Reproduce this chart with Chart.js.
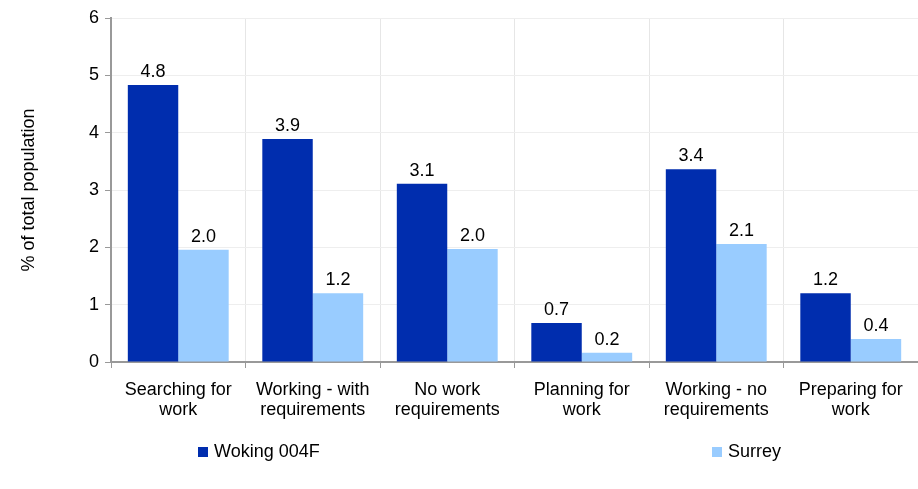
<!DOCTYPE html>
<html><head><meta charset="utf-8">
<script src="https://cdn.jsdelivr.net/npm/chart.js@4.4.0/dist/chart.umd.min.js"></script>
<style>html,body{margin:0;padding:0;background:#fff;}#wrap{width:918px;height:489px;}</style>
</head><body><div id="wrap"><canvas id="c" width="918" height="489"></canvas></div>
<script>
const categories = [["Searching for","work"],["Working - with","requirements"],["No work","requirements"],["Planning for","work"],["Working - no","requirements"],["Preparing for","work"]];
const seriesNames = ["Woking 004F","Surrey"];
const wokingValues = [4.83, 3.89, 3.11, 0.68, 3.36, 1.20];
const surreyValues = [1.96, 1.20, 1.97, 0.16, 2.06, 0.40];
const yTicks = [0,1,2,3,4,5,6];
const FONT = "'Liberation Sans', Arial, sans-serif";
const FS = 18;

const valueLabels = {
  id:'valueLabels',
  afterDatasetsDraw(chart){
    const ctx = chart.ctx;
    ctx.save();
    ctx.font = FS + "px " + FONT;
    ctx.fillStyle = '#000';
    ctx.textAlign = 'center';
    ctx.textBaseline = 'bottom';
    chart.data.datasets.forEach((ds,i)=>{
      chart.getDatasetMeta(i).data.forEach((bar,j)=>{
        ctx.fillText(ds.data[j].toFixed(1), bar.x, bar.y - 4);
      });
    });
    ctx.restore();
  }
};
const customLegend = {
  id:'customLegend',
  afterDraw(chart){
    const ctx = chart.ctx;
    ctx.save();
    ctx.font = FS + "px " + FONT;
    ctx.textBaseline = 'middle';
    const pos = [198, 712];
    const y = 452;
    chart.data.datasets.forEach((ds,i)=>{
      ctx.fillStyle = ds.backgroundColor;
      ctx.fillRect(pos[i], y-5, 10, 10);
      ctx.fillStyle = '#000';
      ctx.fillText(ds.label, pos[i]+16, y);
    });
    ctx.restore();
  }
};

new Chart(document.getElementById('c'), {
  type:'bar',
  data:{
    labels: categories,
    datasets:[
      {label: seriesNames[0], data: wokingValues, backgroundColor:'#002DAE', categoryPercentage:0.75, barPercentage:1.0},
      {label: seriesNames[1], data: surreyValues, backgroundColor:'#99CCFF', categoryPercentage:0.75, barPercentage:1.0}
    ]
  },
  options:{
    responsive:false,
    animation:false,
    layout:{padding:{top:18,right:0,bottom:0,left:0}},
    plugins:{legend:{display:false}, tooltip:{enabled:false}},
    scales:{
      x:{
        grid:{color:'#e6e6e6', offset:true, tickColor:'#999', tickLength:6},
        border:{color:'#999', width:2},
        ticks:{color:'#000', font:{family:FONT, size:FS, lineHeight:1.1}, maxRotation:0, autoSkip:false, padding:12},
        afterFit(s){ s.height = 127; }
      },
      y:{
        min:0, max:6,
        afterBuildTicks(s){ s.ticks = yTicks.map(v=>({value:v})); },
        grid:{color:'#eeeeee', tickColor:'#999', tickLength:6},
        border:{color:'#999', width:2},
        ticks:{color:'#000', font:{family:FONT, size:FS}, padding:6},
        title:{display:true, text:'% of total population', color:'#000', font:{family:FONT, size:FS}, padding:{top:18,bottom:18}},
        afterFit(s){ s.width = 111; }
      }
    }
  },
  plugins:[valueLabels, customLegend]
});
</script></body></html>
